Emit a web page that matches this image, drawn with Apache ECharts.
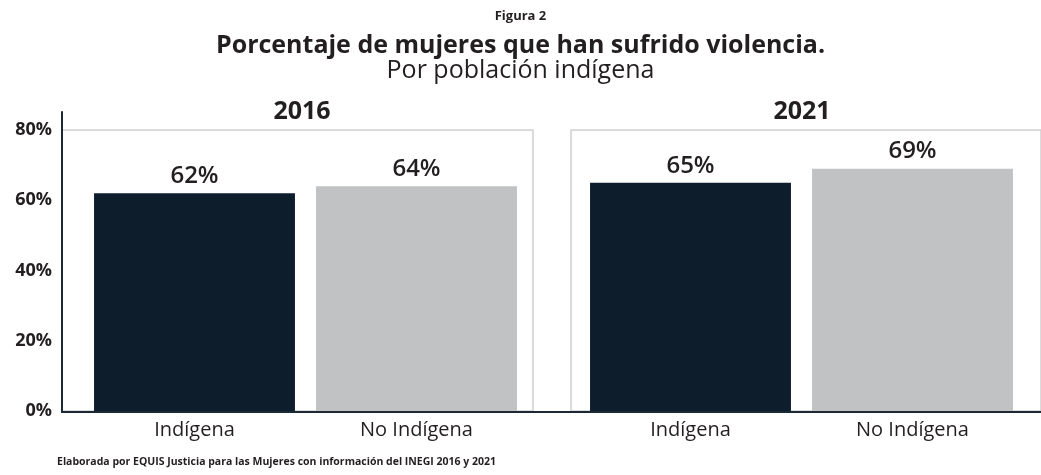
<!DOCTYPE html>
<html>
<head>
<meta charset="utf-8">
<script src="https://cdn.jsdelivr.net/npm/echarts@6/dist/echarts.min.js"></script>
<style>
html,body{margin:0;padding:0;background:#fff;}
#chart{width:1041px;height:475px;}
</style>
</head>
<body>
<div id="chart"></div>
<script>
const years = ['2016', '2021'];
const categories = ['Indígena', 'No Indígena'];
const values2016 = [62, 64];
const values2021 = [65, 69];
const barColors = ['#0e1d2b', '#c1c2c4'];
const yMin = 0, yMax = 80, yStep = 20;

const FONT = '"Open Sans", "Noto Sans", sans-serif';
const TXT = '#231f20';
const AX = '#1b2836';

const chart = echarts.init(document.getElementById('chart'), null, {renderer: 'canvas'});

function barSeries(idx, values) {
  return {
    type: 'bar',
    xAxisIndex: idx,
    yAxisIndex: idx,
    barCategoryGap: '9.5%',
    data: values.map((v, i) => ({value: v, itemStyle: {color: barColors[i]}})),
    label: {
      show: true, position: 'top', distance: 5,
      formatter: p => p.value + '%',
      fontFamily: FONT, fontSize: 24, fontWeight: 600, color: TXT
    },
    z: 3
  };
}

const hiddenVal = {type: 'value', show: false, min: 0, max: 1};
const hiddenY = {type: 'value', show: false, min: yMin, max: yMax};
const tStyle = (size, weight) => ({fontFamily: FONT, fontSize: size, fontWeight: weight, color: TXT});

const option = {
  backgroundColor: '#fff',
  animation: false,
  title: [
    {text: 'Figura 2', left: 'center', top: 10, padding: 0, textStyle: tStyle(13, 'bold')},
    {text: 'Porcentaje de mujeres que han sufrido violencia.', left: 'center', top: 33, padding: 0, textStyle: tStyle(25, 'bold')},
    {text: 'Por población indígena', left: 'center', top: 58, padding: 0, textStyle: tStyle(25, 'normal')},
    {text: years[0], left: 302, textAlign: 'center', top: 99, padding: 0, textStyle: tStyle(25, 'bold')},
    {text: years[1], left: 802, textAlign: 'center', top: 99, padding: 0, textStyle: tStyle(25, 'bold')},
    {text: 'Elaborada por EQUIS Justicia para las Mujeres con información del INEGI 2016 y 2021', left: 57, top: 457, padding: 0, textStyle: tStyle(10.5, 'bold')}
  ],
  grid: [
    {left: 62, top: 130, width: 471, height: 281, show: true, borderColor: '#cfcfcf', borderWidth: 1.5},
    {left: 571, top: 130, width: 471, height: 281, show: true, borderColor: '#cfcfcf', borderWidth: 1.5},
    {left: 83.5, top: 130, width: 444, height: 281},
    {left: 579.5, top: 130, width: 444, height: 281},
    {left: 62, top: 112, right: 0, height: 300}
  ],
  xAxis: [
    Object.assign({gridIndex: 0}, hiddenVal),
    Object.assign({gridIndex: 1}, hiddenVal),
    {gridIndex: 2, type: 'category', data: categories, axisLine: {show: false}, axisTick: {show: false},
      axisLabel: {margin: 9, fontFamily: FONT, fontSize: 20, color: TXT}},
    {gridIndex: 3, type: 'category', data: categories, axisLine: {show: false}, axisTick: {show: false},
      axisLabel: {margin: 9, fontFamily: FONT, fontSize: 20, color: TXT}},
    {gridIndex: 4, type: 'value', min: 0, max: 1, axisLine: {show: true, lineStyle: {color: AX, width: 2}},
      axisTick: {show: false}, axisLabel: {show: false}, splitLine: {show: false}}
  ],
  yAxis: [
    {gridIndex: 0, type: 'value', min: yMin, max: yMax, interval: yStep,
      axisLine: {show: false}, axisTick: {show: false}, splitLine: {show: false},
      axisLabel: {margin: 10, formatter: '{value}%', fontFamily: FONT, fontSize: 18, fontWeight: 'bold', color: TXT}},
    Object.assign({gridIndex: 1}, hiddenY),
    Object.assign({gridIndex: 2}, hiddenY),
    Object.assign({gridIndex: 3}, hiddenY),
    {gridIndex: 4, type: 'value', min: 0, max: 1, axisLine: {show: true, lineStyle: {color: AX, width: 2}},
      axisTick: {show: false}, axisLabel: {show: false}, splitLine: {show: false}}
  ],
  series: [
    barSeries(2, values2016),
    barSeries(3, values2021)
  ]
};
chart.setOption(option);
</script>
</body>
</html>
